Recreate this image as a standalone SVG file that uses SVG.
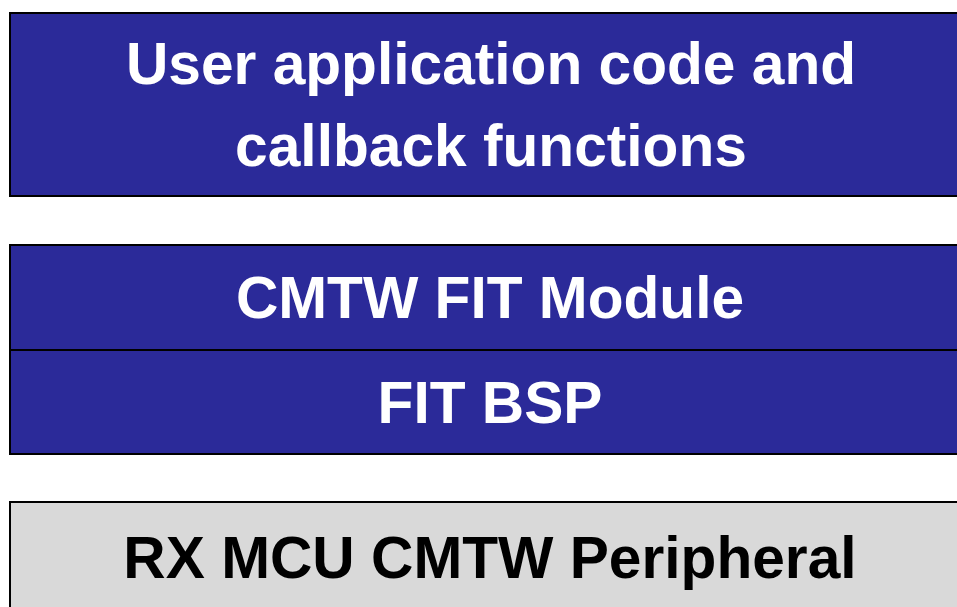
<svg xmlns="http://www.w3.org/2000/svg" width="957" height="607" viewBox="0 0 957 607">
<style>
.blue{fill:#2B2A99;stroke:#000;stroke-width:2}
.gray{fill:#D9D9D9;stroke:#000;stroke-width:2}
.t{font-family:"Liberation Sans",Arial,sans-serif;font-weight:bold;font-size:58.67px;text-anchor:middle}
.w{fill:#fff}
.k{fill:#000}
</style>
<rect width="957" height="607" fill="#fff"/>
<g id="user-app">
<rect class="blue" x="10" y="13" width="962" height="183"/>
<text class="t w" x="491" y="84">User application code and</text>
<text class="t w" x="491" y="166">callback functions</text>
</g>
<g id="cmtw-fit">
<rect class="blue" x="10" y="245" width="962" height="105"/>
<text class="t w" x="490" y="318">CMTW FIT Module</text>
</g>
<g id="fit-bsp">
<rect class="blue" x="10" y="350" width="962" height="104"/>
<text class="t w" x="490" y="423">FIT BSP</text>
</g>
<g id="rx-mcu">
<rect class="gray" x="10" y="502" width="962" height="120"/>
<text class="t k" x="490" y="578">RX MCU CMTW Peripheral</text>
</g>
<g id="connectors"></g>
</svg>
